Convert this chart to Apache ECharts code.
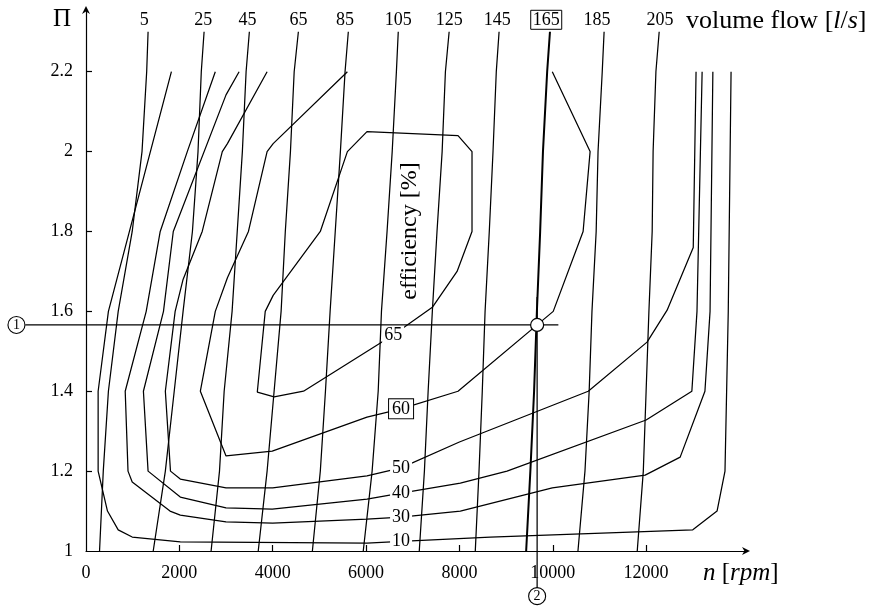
<!DOCTYPE html>
<html><head><meta charset="utf-8">
<script src="https://cdn.jsdelivr.net/npm/echarts@6/dist/echarts.min.js"></script>
<style>html,body{margin:0;padding:0;background:#fff}#c{width:871px;height:608px}</style>
</head><body><div id="c"></div>
<script>
// ---- axis ticks ----
const xTickLabels = [0, 2000, 4000, 6000, 8000, 10000, 12000];
const xTickMarks = [2000, 4000, 6000, 8000, 10000, 12000];
const yTickLabels = [1, 1.2, 1.4, 1.6, 1.8, 2, 2.2];
const yTickMarks = [1.2, 1.4, 1.6, 1.8, 2, 2.2];

// ---- volume flow lines [l/s]: speed n at pressure ratio levels ----
const flowPi = [2.3, 2.2, 2.0, 1.8, 1.6, 1.4, 1.2, 1.0];
const flowNames = ['5', '25', '45', '65', '85', '105', '125', '145', '165', '185', '205'];
const flow5N = [1330, 1300, 1200, 990, 690, 480, 370, 290];
const flow25N = [2530, 2470, 2400, 2280, 2080, 1890, 1700, 1440];
const flow45N = [3500, 3430, 3350, 3240, 3130, 2960, 2860, 2680];
const flow65N = [4550, 4460, 4380, 4270, 4180, 4030, 3880, 3690];
const flow85N = [5620, 5550, 5450, 5340, 5230, 5130, 5020, 4850];
const flow105N = [6690, 6650, 6560, 6450, 6330, 6260, 6130, 5940];
const flow125N = [7780, 7700, 7630, 7520, 7420, 7330, 7250, 7140];
const flow145N = [8850, 8790, 8720, 8640, 8550, 8490, 8420, 8340];
const flow165N = [9940, 9880, 9790, 9730, 9660, 9600, 9520, 9430];
const flow185N = [11100, 11060, 10970, 10930, 10840, 10780, 10690, 10540];
const flow205N = [12280, 12210, 12150, 12130, 12060, 12000, 11940, 11810];
const flowLabelN = [1250, 2510, 3460, 4550, 5550, 6690, 7780, 8810, 9860, 10950, 12300];
const flowLabelPi = 2.33;
const flowHighlighted = '165';

// ---- efficiency contours [%]: [n, Pi] ----
const eff10 = [[1830,2.2],[480,1.6],[260,1.4],[260,1.2],[460,1.1],[690,1.053],[990,1.035],[2020,1.023],[6020,1.02],[6750,1.024],[8660,1.035],[13000,1.053],[13520,1.1],[13690,1.2],[13760,1.6],[13820,2.2]];
const eff30 = [[2770,2.2],[2170,2.0],[1590,1.8],[1290,1.6],[840,1.4],[900,1.2],[990,1.173],[1800,1.1],[2020,1.09],[3000,1.073],[4000,1.07],[6020,1.08],[6750,1.085],[8020,1.1],[9990,1.158],[11980,1.19],[12730,1.235],[13260,1.4],[13370,1.6],[13430,2.2]];
const eff40 = [[3280,2.2],[3000,2.142],[1870,1.8],[1660,1.6],[1230,1.4],[1330,1.2],[2020,1.135],[3000,1.108],[3990,1.105],[6020,1.13],[6750,1.145],[8020,1.17],[9020,1.2],[12000,1.328],[12980,1.4],[13090,1.6],[13200,2.2]];
const eff50 = [[3880,2.2],[3030,2.02],[2920,2.0],[2490,1.8],[2080,1.68],[1910,1.6],[1700,1.4],[1810,1.2],[2020,1.18],[3000,1.158],[4000,1.158],[6020,1.188],[6750,1.208],[8000,1.273],[10760,1.4],[12020,1.523],[12450,1.603],[13010,1.76],[13070,2.2]];
const eff60 = [[5600,2.2],[4010,2.02],[3880,2.0],[3480,1.8],[3030,1.684],[2770,1.6],[2450,1.4],[3000,1.238],[3990,1.25],[6020,1.335],[6750,1.356],[7970,1.4],[10010,1.6],[10650,1.8],[10800,2.0],[9990,2.2]];
const eff65 = [[4660,1.4],[4030,1.386],[3670,1.398],[3840,1.6],[4010,1.64],[5020,1.8],[5600,2.0],[6020,2.05],[7970,2.04],[8270,2.0],[8270,1.8],[7950,1.7],[7420,1.61],[6580,1.541],[4660,1.4]];
const effLabelText = ['10', '30', '40', '50', '60', '65'];
const effLabelN = [6750, 6750, 6750, 6750, 6750, 6580];
const effLabelPi = [1.024, 1.085, 1.145, 1.208, 1.356, 1.541];
const effBoxed = '60';

// ---- operating point markers ----
const opPoint = [9665, 1.566];
const marker1Line = [-1300, 1.566, 10120, 1.566];
const marker2Line = [9665, 1.636, 9665, 0.907];
const marker1Circle = [-1490, 1.566];
const marker2Circle = [9665, 0.887];

// ---------------------------------------------------------------
const SERIF = 'Liberation Serif, Times New Roman, serif';
const flowArrays = [flow5N, flow25N, flow45N, flow65N, flow85N, flow105N, flow125N, flow145N, flow165N, flow185N, flow205N];
const effArrays = [eff10, eff30, eff40, eff50, eff60, eff65];

const series = [];
flowArrays.forEach((arr, k) => {
  series.push({
    type: 'line', name: 'flow ' + flowNames[k], symbol: 'none', silent: true, z: 2,
    lineStyle: { color: '#000', width: flowNames[k] === flowHighlighted ? 2 : 1.25 },
    data: arr.map((n, i) => [n, flowPi[i]])
  });
});
effArrays.forEach((arr, k) => {
  series.push({
    type: 'line', name: 'eff ' + effLabelText[k], symbol: 'none', silent: true, z: 2,
    lineStyle: { color: '#000', width: 1.25 },
    data: arr.map(p => [p[0], p[1]])
  });
});
// labels of flow lines
series.push({
  type: 'scatter', symbolSize: 1, silent: true, z: 5,
  itemStyle: { color: 'rgba(0,0,0,0)', opacity: 1 },
  data: flowLabelN.map((n, i) => ({
    value: [n, flowLabelPi],
    label: Object.assign({
      show: true, position: 'inside', formatter: flowNames[i],
      fontFamily: SERIF, fontSize: 18, color: '#000'
    }, flowNames[i] === flowHighlighted ? { borderColor: '#000', borderWidth: 1, padding: [1, 2, 0, 2] } : {})
  }))
});
// labels of efficiency contours
series.push({
  type: 'scatter', symbolSize: 1, silent: true, z: 5,
  itemStyle: { color: 'rgba(0,0,0,0)', opacity: 1 },
  data: effLabelN.map((n, i) => ({
    value: [n, effLabelPi[i]],
    label: Object.assign({
      show: true, position: 'inside', formatter: effLabelText[i],
      fontFamily: SERIF, fontSize: 18, color: '#000', backgroundColor: '#fff', padding: [0, 2]
    }, effLabelText[i] === effBoxed ? { borderColor: '#000', borderWidth: 1, padding: [1, 3, 0, 3] } : {})
  }))
});
// marker lines (drawn through the axes' scales, allowed to leave the grid)
series.push({
  type: 'custom', silent: true, clip: false, z: 3,
  encode: { x: [0, 2], y: [1, 3] },
  data: [marker1Line, marker2Line],
  renderItem: function (params, api) {
    const p1 = api.coord([api.value(0), api.value(1)]);
    const p2 = api.coord([api.value(2), api.value(3)]);
    return { type: 'line', shape: { x1: p1[0], y1: p1[1], x2: p2[0], y2: p2[1] }, style: { stroke: '#000', lineWidth: 1.25 } };
  }
});
// circled markers
series.push({
  type: 'scatter', clip: false, silent: true, z: 6, symbol: 'circle', symbolSize: 17,
  itemStyle: { color: '#fff', borderColor: '#000', borderWidth: 1.1, opacity: 1 },
  data: [
    { value: marker1Circle, label: { show: true, position: 'inside', formatter: '1', fontFamily: SERIF, fontSize: 14, color: '#000' } },
    { value: marker2Circle, label: { show: true, position: 'inside', formatter: '2', fontFamily: SERIF, fontSize: 14, color: '#000' } }
  ]
});
series.push({
  type: 'scatter', clip: false, silent: true, z: 6, symbol: 'circle', symbolSize: 13,
  itemStyle: { color: '#fff', borderColor: '#000', borderWidth: 1.2, opacity: 1 },
  data: [opPoint]
});

const arrowPath = 'path://M5,0 L10,10 L5,7 L0,10 Z';
const chart = echarts.init(document.getElementById('c'), null, { renderer: 'canvas' });
chart.setOption({
  animation: false,
  backgroundColor: '#fff',
  grid: { left: 86, right: 125, top: 10, bottom: 57, containLabel: false },
  xAxis: {
    type: 'value', min: 0, max: 14140,
    axisLine: { show: true, symbol: ['none', arrowPath], symbolSize: [8, 10], lineStyle: { color: '#000', width: 1.2 } },
    axisTick: { show: true, inside: true, length: 6, customValues: xTickMarks, lineStyle: { color: '#000', width: 1.2 } },
    axisLabel: { customValues: xTickLabels, margin: 13, fontFamily: SERIF, fontSize: 18, color: '#000', formatter: v => String(v) },
    splitLine: { show: false }
  },
  yAxis: {
    type: 'value', min: 1, max: 2.3545,
    axisLine: { show: true, symbol: ['none', arrowPath], symbolSize: [8, 10], lineStyle: { color: '#000', width: 1.2 } },
    axisTick: { show: true, inside: true, length: 6, customValues: yTickMarks, lineStyle: { color: '#000', width: 1.2 } },
    axisLabel: { customValues: yTickLabels, margin: 13, fontFamily: SERIF, fontSize: 18, color: '#000', formatter: v => String(v) },
    splitLine: { show: false }
  },
  graphic: [
    { type: 'text', x: 62, y: 19, style: { text: 'Π', font: '25px ' + SERIF, fill: '#000', align: 'center', verticalAlign: 'middle' } },
    { type: 'text', x: 686, y: 21, style: {
        text: 'volume flow [{it|l}/{it|s}]', fontFamily: SERIF, fontSize: 26, fill: '#000', align: 'left', verticalAlign: 'middle',
        rich: { it: { fontFamily: SERIF, fontSize: 26, fontStyle: 'italic', fill: '#000' } } } },
    { type: 'text', x: 703, y: 573, style: {
        text: '{it|n} [{it|rpm}]', fontFamily: SERIF, fontSize: 25, fill: '#000', align: 'left', verticalAlign: 'middle',
        rich: { it: { fontFamily: SERIF, fontSize: 25, fontStyle: 'italic', fill: '#000' } } } },
    { type: 'text', x: 410, y: 231, rotation: Math.PI / 2, style: {
        text: 'efficiency [%]', font: '24px ' + SERIF, fill: '#000', align: 'center', verticalAlign: 'middle' } }
  ],
  series: series
});
</script></body></html>
